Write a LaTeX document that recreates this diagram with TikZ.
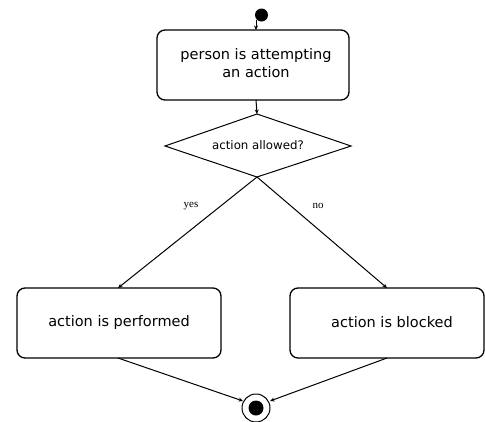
\documentclass[tikz,border=0pt]{standalone}
\usepackage{fontspec}
\setmainfont{DejaVu Sans}
\newfontfamily\labfont{Liberation Serif}
\usetikzlibrary{shapes.geometric,arrows.meta}
\begin{document}
\begin{tikzpicture}[x=1pt,y=-1pt,
  state/.style={draw,line width=1.3pt,rounded corners=8pt},
  conn/.style={line width=1pt,-{Stealth[length=4.5pt,width=4pt]}},
  big/.style={font=\fontsize{14.5}{18}\selectfont},
  lab/.style={font=\labfont\fontsize{11}{12}\selectfont}]
\useasboundingbox (0,0) rectangle (485,421);
% initial node
\fill (261.5,15) circle (6.5);
\coordinate (init) at (256,20);
% top state
\draw[state] (157,30) rectangle (349,100);
\node[big,align=center] (s1) at (256,63) {person is attempting\\an action};
\coordinate (s1t) at (256,30);
\coordinate (s1b) at (256,100);
% decision
\coordinate (dt) at (257,114);
\coordinate (dl) at (165,146);
\coordinate (dr) at (351,146);
\coordinate (db) at (257,177);
\draw[line width=1pt] (dt) -- (dr) -- (db) -- (dl) -- cycle;
\node[font=\fontsize{11.8}{14}\selectfont] (d) at (258,145) {action allowed?};
% outcome states
\draw[state] (17,288) rectangle (221,358);
\node[big] (s2) at (119,322) {action is performed};
\draw[state] (290,288) rectangle (484,358);
\node[big] (s3) at (392,322) {action is blocked};
\coordinate (s2t) at (118,288);
\coordinate (s2b) at (118,358);
\coordinate (s3t) at (387,288);
\coordinate (s3b) at (387,358);
% final node
\draw[line width=1pt,fill=white] (256,408) circle (14);
\fill (256,408) circle (7.5);
\coordinate (finL) at (243,401);
\coordinate (finR) at (270,401);
% connectors
\draw[conn] (init) -- (s1t);
\draw[conn] (s1b) -- (dt);
\draw[conn] (db) -- (s2t);
\draw[conn] (db) -- (s3t);
\draw[conn] (s2b) -- (finL);
\draw[conn] (s3b) -- (finR);
\node[lab] (yes) at (191,206) {yes};
\node[lab] (no) at (318,206) {no};
\end{tikzpicture}
\end{document}
